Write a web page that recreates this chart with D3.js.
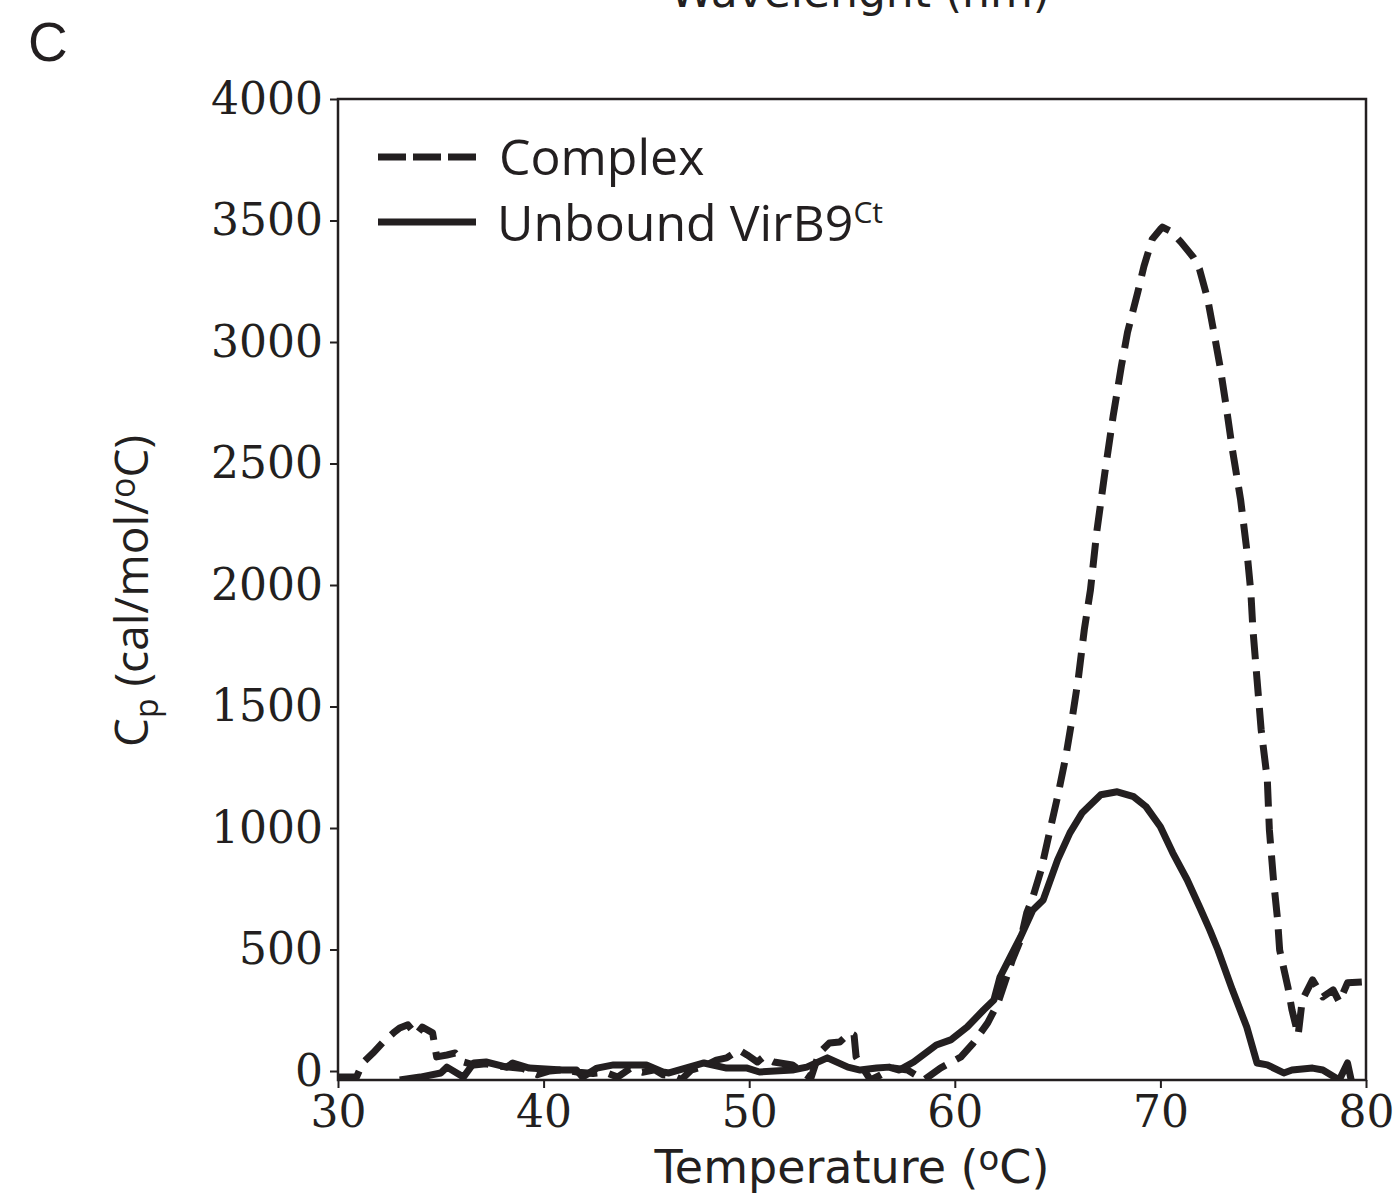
<!DOCTYPE html>
<html>
<head>
<meta charset="utf-8">
<script src="https://cdn.jsdelivr.net/npm/d3@7"></script>
<style>
  html, body { margin: 0; padding: 0; background: #fff; }
  svg { display: block; }
</style>
</head>
<body>
<svg id="chart" width="1393" height="1195"></svg>
<script>
// ---- Data ----
const xTicks = [30, 40, 50, 60, 70, 80];
const yTicks = [0, 500, 1000, 1500, 2000, 2500, 3000, 3500, 4000];

const complexT = [30.0, 30.9, 31.2, 31.7, 32.2, 32.7, 33.0, 33.4, 33.8, 34.1, 34.6, 34.8, 35.3, 35.7, 36.1,
  36.6, 37.2, 37.8, 38.4, 39.0, 39.7, 40.3, 41.0, 41.7, 42.4, 43.0, 43.6, 44.2, 44.8, 45.4, 45.8, 46.3, 46.7, 47.2, 47.8,
  48.4, 48.9, 49.5, 49.9, 50.4, 50.7, 51.2, 52.1, 53.0, 53.4, 53.9, 54.4, 54.9, 55.1, 55.2, 55.5, 55.9, 56.4, 57.0, 57.7,
  58.5, 59.3, 60.3, 60.9, 61.6, 62.1, 62.8, 63.2, 63.5, 63.8, 64.2, 64.6, 65.0, 65.4, 65.7, 66.0, 66.3, 66.6, 66.9, 67.3,
  67.7, 68.1, 68.4, 68.9, 69.2, 69.6, 70.0, 70.1, 70.5, 71.0, 71.6, 71.9, 72.3, 72.6, 72.9, 73.2, 73.5, 73.9, 74.2, 74.4,
  74.5, 74.7, 74.9, 75.2, 75.3, 75.5, 75.7, 75.8, 76.2, 76.4, 76.7, 76.9, 77.4, 77.9, 78.4, 78.7, 79.1, 79.9, 80.0];
const complexCp = [-25, -25, 33, 74, 119, 157, 177, 190, 148, 181, 157, 58, 66, 74, 37,
  25, 30, 20, 15, 10, -15, 0, 5, -5, -10, -5, -25, 10, -5, 5, -15, -20, -35, 5, 20,
  45, 54, 87, 66, 37, 58, 37, 25, -29, 74, 115, 119, 157, 148, 58, 16, -37, -16, 12, 4,
  -37, 12, 58, 115, 198, 280, 457, 540, 651, 717, 828, 980, 1129, 1294, 1446, 1611, 1817, 1981, 2216, 2463,
  2694, 2900, 3040, 3205, 3312, 3423, 3464, 3473, 3456, 3411, 3349, 3300, 3176, 3040, 2900, 2735, 2558, 2352, 2146, 1969,
  1817, 1611, 1405, 1199, 993, 787, 622, 498, 346, 251, 148, 292, 375, 305, 334, 284, 363, 367, 367];

const unboundT = [33.0, 34.0, 35.0, 35.3, 36.1, 36.6, 37.2, 38.2, 38.5, 39.3, 40.9, 41.6, 41.9, 42.6, 43.4, 45.0, 45.8,
  46.1, 47.8, 48.9, 49.9, 50.5, 52.1, 52.8, 53.8, 54.8, 55.4, 56.2, 56.8, 57.3, 58.0, 59.1, 59.8, 60.6, 61.4, 61.9,
  62.2, 62.7, 63.2, 63.8, 64.3, 65.0, 65.6, 66.2, 67.1, 67.9, 68.7, 69.3, 70.0, 70.6, 71.3, 71.9, 72.4, 72.8, 73.5,
  74.2, 74.7, 75.2, 76.0, 76.4, 77.4, 77.9, 78.7, 79.1, 79.3];
const unboundCp = [-37, -25, -8, 16, -25, 33, 37, 16, 33, 12, 4, 4, -25, 12, 25, 25, -4,
  -8, 33, 12, 12, -4, 4, 16, 54, 16, 4, 12, 16, 4, 37, 107, 128, 181, 251, 292,
  387, 470, 552, 663, 704, 869, 980, 1063, 1137, 1149, 1129, 1088, 1005, 898, 787, 676, 581, 498, 334,
  181, 33, 25, -8, 4, 12, 4, -37, 33, -45];

const seriesNames = ["Complex", "Unbound VirB9"];

// ---- Layout ----
const ink = "#231f20";
const pL = 338, pR = 1366, pT = 99, pB = 1080;

const x = d3.scaleLinear().domain([30, 80]).range([pL, pR]);
const y = d3.scaleLinear().domain([-37, 4000]).range([pB, pT]);

const svg = d3.select("#chart");

svg.append("defs").append("clipPath").attr("id", "plotclip")
  .append("rect").attr("x", pL).attr("y", pT).attr("width", pR - pL).attr("height", pB - pT);

const line = d3.line().x(d => x(d[0])).y(d => y(d[1])).curve(d3.curveLinear);

const complexData = complexT.map((t, i) => [t, complexCp[i]]);
const unboundData = unboundT.map((t, i) => [t, unboundCp[i]]);

const plot = svg.append("g").attr("clip-path", "url(#plotclip)");
plot.append("path").datum(unboundData)
  .attr("d", line).attr("fill", "none").attr("stroke", ink)
  .attr("stroke-width", 7).attr("stroke-linejoin", "round");
plot.append("path").datum(complexData)
  .attr("d", line).attr("fill", "none").attr("stroke", ink)
  .attr("stroke-width", 7).attr("stroke-linejoin", "round")
  .attr("stroke-dasharray", "25,12");

svg.append("rect").attr("x", pL).attr("y", pT).attr("width", pR - pL).attr("height", pB - pT)
  .attr("fill", "none").attr("stroke", ink).attr("stroke-width", 2.5);

const xAxis = svg.append("g").attr("transform", `translate(0,${pB})`)
  .call(d3.axisBottom(x).tickValues(xTicks).tickSize(8).tickPadding(8).tickFormat(d3.format("d")));
const yAxis = svg.append("g").attr("transform", `translate(${pL},0)`)
  .call(d3.axisLeft(y).tickValues(yTicks).tickSize(8).tickPadding(7).tickFormat(d3.format("d")));
[xAxis, yAxis].forEach(a => {
  a.select(".domain").remove();
  a.selectAll(".tick line").attr("stroke", ink).attr("stroke-width", 2);
  a.selectAll(".tick text").attr("fill", ink)
    .style("font-family", "'DejaVu Serif', serif").style("font-size", "44px");
});

// x title with raised small "o" as the degree sign
const xt = svg.append("text").attr("x", 852).attr("y", 1183).attr("text-anchor", "middle")
  .attr("fill", ink).style("font-family", "'DejaVu Sans', sans-serif").style("font-size", "46px");
xt.append("tspan").text("Temperature (");
xt.append("tspan").attr("dy", -13).style("font-size", "34px").text("o");
xt.append("tspan").attr("dy", 13).text("C)");

const yl = svg.append("text").attr("transform", "translate(148,591) rotate(-90)")
  .attr("text-anchor", "middle").attr("fill", ink)
  .style("font-family", "'Open Sans', sans-serif").style("font-size", "46px");
yl.append("tspan").text("C");
yl.append("tspan").attr("dy", 10).style("font-size", "32px").text("p");
yl.append("tspan").attr("dy", -10).text(" (cal/mol/");
yl.append("tspan").attr("dy", -13).style("font-size", "34px").text("o");
yl.append("tspan").attr("dy", 13).text("C)");

const lg = svg.append("g");
lg.append("line").attr("x1", 378).attr("x2", 476).attr("y1", 157).attr("y2", 157)
  .attr("stroke", ink).attr("stroke-width", 7).attr("stroke-dasharray", "28,7");
lg.append("line").attr("x1", 378).attr("x2", 476).attr("y1", 222).attr("y2", 222)
  .attr("stroke", ink).attr("stroke-width", 7);
lg.append("text").attr("x", 499).attr("y", 175).attr("fill", ink)
  .style("font-family", "'Open Sans', sans-serif").style("font-size", "50px").text(seriesNames[0]);
const t2 = lg.append("text").attr("x", 497).attr("y", 241).attr("fill", ink)
  .style("font-family", "'Open Sans', sans-serif").style("font-size", "50px");
t2.append("tspan").text(seriesNames[1]);
t2.append("tspan").attr("dy", -18).style("font-size", "30px").text("Ct");

svg.append("text").attr("x", 28).attr("y", 61).attr("fill", ink)
  .style("font-family", "'Liberation Sans', Arial, sans-serif").style("font-size", "55px").text("C");
svg.append("text").attr("x", 860).attr("y", 7).attr("text-anchor", "middle").attr("fill", ink)
  .style("font-family", "'DejaVu Sans', sans-serif").style("font-size", "44px").text("Wavelenght (nm)");
</script>
</body>
</html>
